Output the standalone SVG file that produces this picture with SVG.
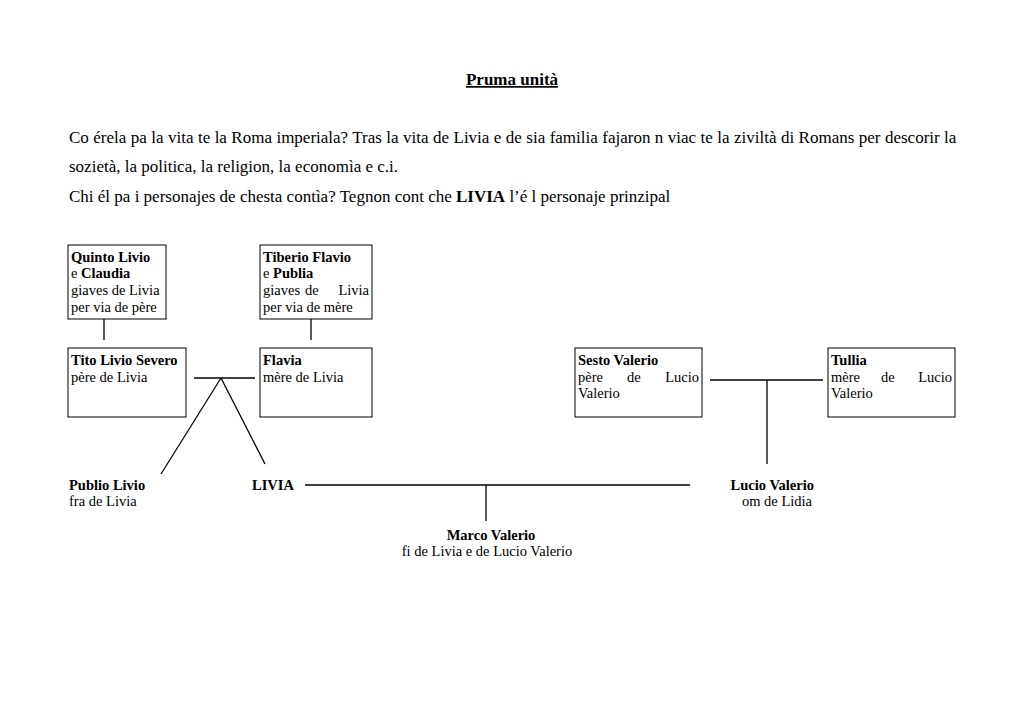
<svg xmlns="http://www.w3.org/2000/svg" width="1024" height="725" viewBox="0 0 1024 725">
<style>
text{font-family:"Liberation Serif","Times New Roman",serif;fill:#000}
.body{font-size:17px}
.n{font-size:14.5px}
.b{font-weight:bold}
.e{text-anchor:end}
.m{text-anchor:middle}
rect{fill:#fff;stroke:#000;stroke-width:1}
.c line{stroke:#000;stroke-width:1.3}
</style>
<rect x="0" y="0" width="1024" height="725" style="stroke:none"/>
<g id="header">
<text class="body b" x="512" y="85" text-anchor="middle" text-decoration="underline">Pruma unità</text>
<text class="body" x="69" y="143" word-spacing="0.2">Co érela pa la vita te la Roma imperiala? Tras la vita de Livia e de sia familia fajaron n viac te la ziviltà di Romans per descorir la</text>
<text class="body" x="69" y="172">sozietà, la politica, la religion, la economìa e c.i.</text>
<text class="body" x="69" y="202">Chi él pa i personajes de chesta contìa? Tegnon cont che <tspan class="b">LIVIA</tspan>  l’é l personaje prinzipal</text>
</g>
<g class="c" id="connectors">
<line x1="104" y1="319" x2="104" y2="340"/>
<line x1="311" y1="319" x2="311" y2="340"/>
<line x1="194" y1="378" x2="255" y2="378"/>
<line x1="221" y1="378" x2="161" y2="474"/>
<line x1="221" y1="378" x2="265" y2="464"/>
<line x1="710" y1="380" x2="823" y2="380"/>
<line x1="767" y1="380" x2="767" y2="464"/>
<line x1="305" y1="485" x2="690" y2="485"/>
<line x1="486" y1="485" x2="486" y2="521"/>
</g>
<g id="quinto">
<rect x="68" y="245" width="98" height="74"/>
<text class="n b" x="71" y="262">Quinto Livio</text>
<text class="n" x="71" y="278">e <tspan class="b">Claudia</tspan></text>
<text class="n" x="71" y="295">giaves de Livia</text>
<text class="n" x="71" y="312">per via de père</text>
</g>
<g id="tiberio">
<rect x="260" y="245" width="112" height="74"/>
<text class="n b" x="263" y="262">Tiberio Flavio</text>
<text class="n" x="263" y="278">e <tspan class="b">Publia</tspan></text>
<text class="n" x="263" y="295">giaves</text>
<text class="n" x="305" y="295">de</text>
<text class="n e" x="369" y="295">Livia</text>
<text class="n" x="263" y="312">per via de mère</text>
</g>
<g id="tito">
<rect x="68" y="348" width="118" height="69"/>
<text class="n b" x="71" y="365">Tito Livio Severo</text>
<text class="n" x="71" y="382">père de Livia</text>
</g>
<g id="flavia">
<rect x="260" y="348" width="112" height="69"/>
<text class="n b" x="263" y="365">Flavia</text>
<text class="n" x="263" y="382">mère de Livia</text>
</g>
<g id="sesto">
<rect x="575" y="348" width="127" height="69"/>
<text class="n b" x="578" y="365">Sesto Valerio</text>
<text class="n" x="578" y="382">père</text>
<text class="n" x="627" y="382">de</text>
<text class="n e" x="699" y="382">Lucio</text>
<text class="n" x="578" y="398">Valerio</text>
</g>
<g id="tullia">
<rect x="828" y="348" width="127" height="69"/>
<text class="n b" x="831" y="365">Tullia</text>
<text class="n" x="831" y="382">mère</text>
<text class="n" x="881" y="382">de</text>
<text class="n e" x="952" y="382">Lucio</text>
<text class="n" x="831" y="398">Valerio</text>
</g>
<g id="publio">
<text class="n b" x="69" y="490">Publio Livio</text>
<text class="n" x="69" y="506">fra de Livia</text>
</g>
<g id="livia">
<text class="n b" x="252" y="490">LIVIA</text>
</g>
<g id="lucio">
<text class="n b e" x="814" y="490">Lucio Valerio</text>
<text class="n e" x="812" y="506">om de Lidia</text>
</g>
<g id="marco">
<text class="n b m" x="491" y="540">Marco Valerio</text>
<text class="n m" x="487" y="556">fi de Livia e de Lucio Valerio</text>
</g>
</svg>
